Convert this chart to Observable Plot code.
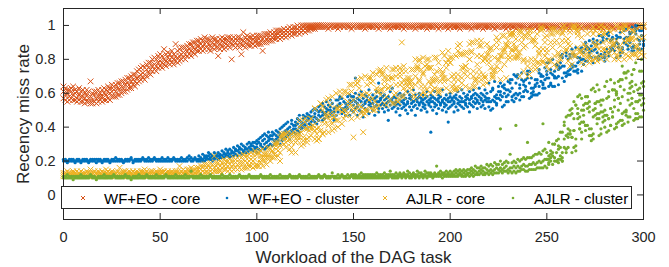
<!DOCTYPE html>
<html><head><meta charset="utf-8">
<script src="https://cdn.jsdelivr.net/npm/d3@7"></script>
<script src="https://cdn.jsdelivr.net/npm/@observablehq/plot@0.6"></script>
<style>
body{margin:0;background:#fff;font-family:"Liberation Sans",Arial,Helvetica,sans-serif}
#wrap{position:relative;width:669px;height:267px}
#legend{position:absolute;left:61px;top:186px;width:569px;height:21px;border:1px solid #262626;background:#fff}
.entry{position:absolute;top:0;height:21px}
.entry svg{position:absolute;left:0;top:7px}
.entry span{position:absolute;left:25px;top:3px;font-size:15px;line-height:17px;white-space:nowrap;color:#000}
</style></head><body>
<div id="wrap"><div id="legend"></div></div>
<script>
const workload = d3.range(0, 301);
const xTicks = [0, 50, 100, 150, 200, 250, 300];
const yTicks = [0, 0.2, 0.4, 0.6, 0.8, 1];
const yTickLabels = ["0", "0.2", "0.4", "0.6", "0.8", "1"];
const seriesNames = ["WF+EO - core", "WF+EO - cluster", "AJLR - core", "AJLR - cluster"];
const xLabel = "Workload of the DAG task";
const yLabel = "Recency miss rate";

// miss rates in percent, one row of observations per workload value 0..300
const wfeoCore = [
[61,57,64],[59,63,56],[60,55,62],[58,62,56],[61,57,63],[59,64,56],[60,56,62],[57,61,55],[59,63,56],[58,55,61],
[58,62,55],[57,60,54],[59,55,62],[57,61,55],[58,54,67],[56,60,54],[59,55,61],[57,61,54],[58,55,62],[60,56,58],
[58,62,55],[60,56,63],[59,62,56],[61,57,64],[60,56,63],[61,58,65],[62,58,64],[61,65,58],[63,59,66],[62,66,59],
[64,60,67],[63,67,61],[65,61,68],[66,62,69],[65,69,63],[67,63,70],[68,65,71],[67,71,64],[69,66,73],[70,67,74],
[71,68,75],[72,69,76],[71,75,68],[74,70,77],[75,72,78],[74,78,71],[76,73,80],[77,74,81],[76,80,73],[78,75,82],
[79,76,83],[78,82,75],[80,77,86],[79,83,76],[81,78,84],[80,77,83],[81,85,78],[80,83,77],[82,79,89],[81,85,78],
[82,79,86],[83,80,87],[84,81,87],[83,87,80],[85,82,88],[86,83,89],[85,89,82],[87,84,90],[86,90,83],[88,85,91],
[88,85,91],[89,86,92],[88,91,85],[89,86,93],[90,87,92],[89,92,86],[88,91,85],[90,87,93],[89,92,86],[90,87,92],
[90,87,82],[89,92,86],[91,88,93],[90,86,92],[89,92,87],[91,88,93],[90,93,87],[89,92,80],[91,88,93],[90,87,92],
[91,88,93],[90,93,87],[89,92,83],[91,88,96],[90,93,87],[92,89,94],[91,88,93],[90,93,88],[92,89,94],[91,88,93],
[91,89,94],[92,89,94],[91,94,89],[92,90,85],[93,90,95],[92,95,90],[93,91,95],[94,91,96],[93,95,91],[94,92,96],
[94,92,97],[95,93,97],[94,97,92],[95,93,97],[96,94,98],[95,97,93],[96,94,98],[97,95,99],[96,98,94],[97,95,99],
[97,95,99],[98,96,100],[97,99,95],[98,96,100],[99,97,100],[98,100,96],[99,97,100],[99,100,97],[100,98,99],[99,100,98],
[100,99,98],[99,100,100],[100,99,100],[100,100,99],[100,99,100],
[100,99],[100,99],[100,98],[100,99],[100],[99,100],[100,99],[100,98],[100,99],[100],
[100,99],[100],[100,99],[99,100],[100,98],[100,99],[100],[100,99],[100,99],[99,100],
[100,99],[100,98],[100],[100,99],[100,99],[99,100],[100],[100,99],[100,98],[100,99],
[100],[100,99],[99,100],[100,99],[100,98],[100],[100,99],[100,99],[99,100],[100],
[100,99],[100,98],[100,99],[100],[99,100],[100,99],[100,99],[100,98],[100],[100,99],
[99,100],[100,99],[100],[100,98],[100,99],[100,99],[99,100],[100],[100,99],[100,98],
[100,99],[100],[99,100],[100,99],[100,98],[100,99],[100],[100,99],[99,100],[100,99],
[100,98],[100],[100,99],[99,100],[100,99],[100,99],[100,98],[100],[100,99],[99,100],
[100,99],[100],[100,98],[100,99],[99,100],[100,99],[100],[100,99],[100,98],[99,100],
[100,99],[100],[100,99],[100,99],[100,98],[99,100],[100],[100,99],[100,99],[100,98],
[100],[99,100],[100,99],[100,99],[100],[100,98],[99,100],[100,99],[100],[100,99],
[100,98],[100,99],[99,100],[100],[100,99],[100,99],[100,98],[100],[99,100],[100,99],
[100,99],[100],[100,98],[100,99],[99,100],[100,99],[100],[100,98],[100,99],[99,100],
[100],[100,99],[100,99],[100,98],[100],[99,100],[100,99],[100,99],[100],[100,98],
[100,99],[99,100],[100],[100,99],[100,98],[100,99],[99,100],[100],[100,99],[100,99],
[100,98],[100],[99,100],[100,99],[100,99],[100],[100,98],[99,100],[100,99],[100],
[100,99],[100,99],[100,98],[99,100],[100],[100,99]
];

const wfeoCluster = [
[20,21],[21,20],[20,19],[20,21],[21,20],[20,21],[19,20],[20,21],[21,20],[20,19],
[20,21],[21,20],[20,21],[20,19],[21,20],[20,21],[20,21],[21,19],[20,21],[21,20],
[20,19],[20,21],[21,20],[20,21],[19,20],[21,20],[20,21],[20,22],[21,20],[20,21],
[21,20],[20,19],[20,21],[21,20],[20,21],[21,22],[20,19],[21,20],[20,21],[21,20],
[20,21],[21,22],[20,21],[21,20],[20,22],[21,20],[20,21],[21,22],[20,21],[21,20],
[21,20],[20,22],[21,20],[20,21],[22,20],[21,20],[20,21],[21,22],[20,21],[21,20],
[21,20],[20,22],[21,20],[20,21],[22,20],[21,23],[20,22],[21,20],[21,22],[20,21],
[21,23,20],[22,20,21],[21,24,20],[22,20,23],[21,23,22],[23,21,25],[22,24,21],[23,20,22],[22,25,21],[24,22,23],
[23,21,25],[24,22,23],[23,26,22],[25,22,24],[24,27,23],[25,23,26],[24,27,22],[26,23,25],[25,28,23],[26,24,27],
[26,23,29],[25,28,27],[27,24,30],[26,29,25],[28,25,27],[27,30,25],[28,26,31],[27,30,29],[29,26,31],[28,31,27],
[28,32,25,30],[31,27,33],[29,26,34,30],[32,28,35],[30,33,27,36],[31,35,28],[34,29,32,37],[30,35,33],[33,29,37,35],[36,32,30],
[35,31,38,33],[32,37,34],[36,30,39,35],[34,40,32],[37,33,36,41],[38,34,42],[35,39,37,43],[40,36,33],[38,42,36,44],[41,37,39],
[39,43,36,41],[42,38,45],[40,44,37,47],[43,39,41],[45,40,47,42],[41,46,43],[44,39,48,46],[47,42,45],[43,49,46,41],[46,44,50],
[48,43,46,51],[45,50,42],[47,52,44,49],[50,46,53],[44,49,47,54],[48,52,45],[51,47,55,49],[46,53,50],[52,48,56,50],[49,54,47],
[45,49,44,51],[56,47,52],[52,49,53,56],[57,54,58],[50,48,51,57],[51,55,49],[54,52,50,47],[58,51,53],[56,59,54,47],[50,58,55],
[53,49,58,56],[51,55,60,69],[54,47,57,52],[56,50,59],[52,55,61,49],[57,53,46],[55,59,51,54],[50,56,58],[53,48,55,62],[57,52,54],
[54,59,50,56],[52,57,47],[58,53,55,61],[55,66,51,49],[53,57,60,56],[51,54,58],[56,49,53,59],[54,57,52],[58,55,44,50],[53,56,61],
[55,51,57,63],[52,58,54],[57,49,55,53],[54,59,51],[56,53,60,47],[51,55,58],[59,54,52,56],[53,57,50],[55,61,54,48],[57,52,59],
[54,56,50,58],[52,55,62],[56,59,53,47],[55,51,57],[53,58,54,60],[57,50,55],[54,52,59,56],[51,57,53],[58,55,49,61],[56,53,54],
[52,57,37,59,55],[55,50,58],[57,54,52,61],[53,56,48],[55,59,51,57],[58,54,53],[56,50,55,62],[54,57,52],[53,59,56,49],[57,43,55,51],
[55,58,52,60],[57,53,56],[54,49,58,55],[59,52,57],[56,54,61,50],[53,58,55],[57,55,52,62],[55,60,51],[58,54,56,53],[52,57,59],
[56,61,54,49],[58,53,57],[55,59,52,62],[57,54,60],[59,56,51,55],[54,58,63],[57,52,60,56],[59,55,53],[56,62,58,51],[60,55,57],
[52,55,57,66],[55,61,50],[63,56,62,51],[55,58,67],[53,59,54,57],[64,57,61],[56,59,61,66],[64,52,58],[63,65,53,60],[58,55,62],
[62,67,59,55],[66,61,68],[68,56,63,58],[55,71,59],[57,70,66,60],[69,59,71],[60,65,63,56],[72,58,68],[58,65,61,67],[64,62,68],
[69,71,73,61],[66,73,57],[63,69,58,60],[61,59,63],[64,59,68,65],[59,68,66],[74,72,64,60],[67,71,70],[70,65,63,66],[75,68,63],
[69,73,78,71],[64,78,69],[65,72,66,74],[64,80,71],[69,70,64,73],[77,69,76],[65,70,76,74],[78,75,82],[76,83,69,81],[76,72,67],
[84,72,70,82],[80,71,73],[81,74,83,71],[86,75,77],[82,73,76,83],[87,76,73],[72,81,74,78],[86,81,79],[87,73,85,80],[80,84,77],
[79,86,90,88],[86,79,87],[82,91,84,86],[88,81,85],[78,90,92,85],[89,86,81],[89,81,84,91],[94,80,82],[82,90,94,83],[93,81,91],
[84,79,81,83],[95,86,92],[82,84,96,94],[85,87,91],[93,86,88,92],[85,89,88],[81,92,90,94],[93,89,87],[82,96,93,84],[86,84,87],
[98,90,97,92],[93,89,98],[93,88,86,91],[96,90,95],[87,99,85,96],[85,88,87],[97,100,98,95],[86,100,92],[91,97,86,89],[97,86,94],
[91,100,89,88]
];

const ajlrCore = [
[12,13,11],[13,11,12],[12,14,11],[11,13,12],[12,13,11],[13,12,14],[12,11,13],[11,12,14],[13,12,11],[12,14,11],
[12,13,11],[13,11,12],[12,14,11],[12,13,11],[13,12,15],[11,13,12],[12,14,11],[13,12,11],[12,13,14],[11,13,12],
[12,14,11],[13,12,11],[12,13,15],[11,14,12],[13,12,11],[12,14,13],[11,12,13],[13,11,12],[12,14,11],[13,12,16],
[12,13,11],[13,11,14],[12,14,12],[11,13,12],[13,12,14],[12,11,13],[12,14,11],[13,12,11],[12,13,14],[11,13,12],
[12,14,11],[13,12,14],[12,13,15],[11,14,12],[13,12,11],[12,14,13],[11,12,14],[13,12,11],[12,14,13],[13,12,11],
[12,13,15],[13,11,14],[12,14,12],[13,12,11],[12,13,14],[13,12,11],[12,14,13],[13,11,12],[12,14,13],[13,12,14],
[13,12,17],[12,14,11],[13,15,12],[14,12,13],[13,15,12],[14,12,15],[13,16,12],[14,12,15],[13,15,12],[14,16,12],
[14,12,16],[15,13,17],[14,17,12],[15,13,18],[16,13,18],[15,17,13],[16,14,19],[15,18,13],[16,14,23],[17,14,19],
[16,14,19],[17,14,20],[16,19,13],[17,15,21],[18,15,20],[17,20,14],[18,15,21],[17,20,14],[18,15,22],[19,16,21],
[18,15,22],[19,16,23],[19,22,15],[19,16,24],[20,16,23],[19,23,16],[20,17,24],[21,17,25],[20,24,16],[21,17,26],
[24,17,25,18],[25,17,25],[19,26,21,23],[27,17,21],[24,20,22,24],[22,24,18],[21,28,27,23],[27,20,23],[26,22,26,26],[22,24,30],
[30,31,27,29],[23,26,31],[20,34,25,29],[35,34,36],[30,36,30,33],[28,36,31],[32,37,32,34],[33,27,35],[36,28,31,25],[37,35,35],
[31,25,31,35],[32,36,34],[40,36,44,34],[37,41,29],[34,44,32,30],[43,45,39],[33,39,31,39],[40,38,34],[45,39,35,45],[39,41,41],
[38,51,33,51],[39,36,32],[33,40,33,44],[54,54,38],[36,52,36,50],[44,37,42],[47,56,48,46],[41,57,37],[46,44,48,53],[42,58,38],
[39,46,46,48],[44,60,51],[44,51,40,51],[61,52,52],[49,42,58,49],[61,45,50],[47,50,47,61],[55,48,60],[65,54,52,54],[65,45,61],
[56,51,49,51,34],[52,65,50],[68,66,66,46],[63,58,53],[49,69,59,52],[59,49,47,37],[50,70,48,50],[50,60,65],[56,69,56,59],[51,69,66],
[72,57,50,67],[50,55,52],[63,61,51,71],[73,53,61],[74,73,59,62],[72,71,62],[54,67,69,64],[53,75,58],[63,63,70,68],[56,64,69],
[54,69,69,74],[54,74,59],[60,70,65,75],[55,55,57],[70,75,65,72],[73,66,58,90],[58,76,68,63],[73,66,61],[64,67,69,67],[69,67,66],
[62,67,64,74],[59,57,74],[70,65,80,58],[75,76,74],[68,67,80,79],[64,59,74],[81,71,72,61],[76,59,64],[77,75,62,80],[67,80,75],
[60,75,65,75],[62,67,68],[63,68,81,71],[73,81,68],[61,62,60,78],[74,67,62],[72,71,84,69],[69,82,67],[78,75,78,63],[68,85,80],
[78,61,78,81],[70,81,64],[65,71,68,62],[62,82,63],[88,71,68,85],[83,63,89],[66,69,83,75],[75,72,83],[76,84,64,76],[84,70,73],
[63,80,89,80],[90,84,85],[70,64,90,73],[67,64,68],[77,68,82,91],[71,88,74],[82,88,68,91],[65,71,79],[80,69,81,70],[66,89,83],
[80,86,78,83],[75,86,87],[73,70,71,69],[73,81,74],[76,90,93,87],[91,80,79],[74,82,68,82],[85,94,82],[77,85,94,86],[89,88,69],
[88,91,82,80],[81,95,94],[86,95,96,85],[89,95,81],[86,92,87,81],[82,84,81],[96,70,84,97],[93,90,96],[79,73,87,80],[88,94,93],
[96,76,79,70],[71,97,94],[91,97,80,74],[77,91,92],[80,88,74,91],[95,78,75],[86,84,78,83],[98,97,99],[78,79,98,86],[93,90,82],
[86,76,84,94],[79,80,74],[95,79,90,98],[95,98,87],[77,98,82,90],[91,96,75],[83,84,78,96],[80,88,81],[96,95,91,99],[84,100,97],
[86,98,91,85],[92,89,79],[76,88,96,81],[77,99,84],[99,82,84,100],[97,82,99],[87,97,96,94],[99,84,85],[83,78,85,93],[82,89,77],
[98,87,88,85],[81,82,95],[85,78,80,82],[86,97,81],[99,95,79,90],[97,88,81],[90,81,88,79],[86,99,95],[80,82,100,98],[86,95,90],
[95,99,86,83],[80,91,98],[86,83,97,84],[87,96,91],[89,91,88,98],[80,89,84],[100,91,87,82],[82,98,80],[85,88,86,99],[96,98,84],
[91,80,100,98],[83,100,90],[91,92,98,82],[92,88,81],[83,97,92,93],[97,83,96],[88,92,83,87],[88,85,81],[93,100,99,84],[83,85,92],
[82,100,99,93]
];

const ajlrCluster = [
[10,11],[11,10],[10,12],[11,10],[10,11],[11,9],[10,11],[11,10],[10,11],[12,10],
[11,10],[10,11],[11,10],[10,11],[11,12],[10,11],[11,10],[10,9],[11,10],[10,11],
[11,10],[10,12],[11,10],[10,11],[11,10],[10,11],[12,11],[10,11],[11,10],[10,11],
[11,10],[10,11],[11,12],[10,11],[11,10],[10,9],[11,10],[10,11],[11,10],[10,12],
[11,10],[10,11],[11,10],[12,11],[10,11],[11,10],[10,11],[11,10],[10,12],[11,10],
[10,11],[11,10],[10,11],[11,12],[10,11],[11,10],[10,11],[11,10],[12,10],[10,11],
[11,10],[10,11],[11,10],[10,12],[11,10],[10,11],[11,14],[10,11],[11,10],[10,11],
[11,10],[10,12],[11,10],[10,11],[11,10],[10,11],[11,12],[10,11],[11,10],[10,11],
[11,10],[10,11],[12,10],[11,10],[10,11],[11,10],[10,12],[11,10],[10,11],[11,10],
[10,11],[11,12],[10,11],[11,10],[10,11],[11,10],[12,11],[10,11],[11,10],[10,11],
[11,10],[10,11],[11,12],[10,11],[11,10],[10,11],[11,10],[12,10],[10,11],[11,10],
[10,11],[11,10],[10,12],[11,10],[10,11],[11,10],[10,11],[11,12],[10,11],[11,10],
[10,11],[11,10],[12,11],[10,11],[11,10],[10,11],[11,10],[10,12],[11,10],[10,11],
[11,10],[10,11],[11,12],[10,11],[11,10],[12,11],[10,11],[11,10],[10,11],[11,13],
[10,11],[11,10],[10,12],[11,10],[12,11],[10,11],[11,10],[10,12],[11,10],[12,11],
[11,10,12],[10,11,12],[11,10,11],[10,12,11],[11,10,13],[10,11,12],[11,12,10],[12,10,11],[11,10,12],[10,12,11],
[11,10,12],[12,11,10],[11,13,10],[10,11,12],[11,12,10],[12,10,11],[11,10,13],[10,12,11],[11,10,12],[12,11,14],
[11,10,12],[12,11,10],[11,13,10],[10,12,11],[12,11,13],[11,10,12],[12,13,11],[11,10,12],[12,11,14],[11,13,10],
[12,11,10],[11,13,12],[12,10,11],[11,12,14],[13,11,10],[12,11,13],[11,12,10],[12,14,11],[11,10,13],[12,11,13],
[11,13,12],[12,10,11],[13,11,12],[12,17,11],[11,13,12],[12,11,14],[13,12,10],[12,11,13],[11,14,12],[12,13,11],
[12,11,14],[13,11,12],[12,14,11],[13,11,15],[12,14,11],[13,12,15],[12,11,14],[13,15,11],[14,12,11],[13,15,12],
[13,11,15],[14,12,16],[13,15,11],[14,12,17],[13,16,12],[14,12,16],[15,13,17],[14,12,16],[13,16,12],[15,13,18],
[14,12,17],[15,13,18],[14,17,12],[15,13,19],[16,13,18],[15,18,13],[16,14,20,39],[15,18,13],[16,14,19],[17,14,20],
[15,13,19],[16,14,24],[16,19,13],[17,14,20],[16,13,19,41],[17,14,21],[16,20,14],[17,15,21],[18,15,22],[17,21,14],
[17,14,22,31],[18,15,22],[18,22,15],[19,15,23],[18,15,24],[19,16,24],[20,16,25],[19,24,16],[20,16,26,42],[21,17,27],
[21,16,21,25],[19,23,21,18,31],[26,20,24,22],[25,30,23,18],[30,20,22,30],[25,32,20,20],[21,33,27,29,19],[23,37,28,21],[20,25,37,20,22],[43,28,41,33],
[27,25,35,46],[36,39,28,47,34],[36,47,50,38,36],[51,34,25,34,48],[28,55,45,38,38],[33,53,53,29,26],[58,51,45,48,48],[46,59,39,39,42],[43,50,33,37,57],[43,53,47,50,43],
[58,38,41,41,54],[58,51,54,58,41],[35,52,49,39,55],[35,39,32,35,62],[33,63,36,46,50],[54,47,61,51,54],[55,65,42,45,48],[55,35,45,48,62],[56,39,36,49,53],[49,46,43,56,56],
[50,64,44,40,47],[47,67,47,57,37],[61,45,58,38,45],[51,68,41,51,41],[46,62,49,62,46],[52,56,66,62,39],[40,60,61,42,59],[50,43,57,57,67],[68,44,64,54,68],[68,44,58,48,41,76],
[72,49,42,72,62],[49,69,50,72,47],[60,56,43,73,46],[66,46,60,53,63],[57,54,64,67,71],[74,51,61,74,44],[55,65,45,45,48,78],[48,55,55,45,62],[56,46,63,59,73],[73,53,46,59,66,80],
[67,64,54,50,57]
];

const seriesValues = [wfeoCore, wfeoCluster, ajlrCore, ajlrCluster];
const seriesColors = ["#D95319", "#0072BD", "#EDB120", "#77AC30"];
const seriesMarkers = ["times", "dot", "times", "dot"];

function points(rows) {
  const out = [];
  rows.forEach((row, i) => row.forEach(v => out.push({x: workload[i], y: v / 100})));
  return out;
}

const ink = "#262626";
const dotMarks = seriesValues.map((rows, k) =>
  seriesMarkers[k] === "times"
    ? Plot.dot(points(rows), {x: "x", y: "y", symbol: "times", r: 2.7, stroke: seriesColors[k], strokeWidth: 1})
    : Plot.dot(points(rows), {x: "x", y: "y", r: 1.6, fill: seriesColors[k], stroke: "none"})
);

const chart = Plot.plot({
  width: 669, height: 267,
  marginLeft: 63, marginRight: 26, marginTop: 8, marginBottom: 48,
  style: {background: "white", color: ink, fontFamily: "'Liberation Sans', Arial, Helvetica, sans-serif", overflow: "visible"},
  x: {domain: [0, 300], label: null},
  y: {domain: [-0.145, 1.1], label: null},
  marks: [
    ...dotMarks,
    Plot.tickX(xTicks, {x: d => d, insetTop: 205, stroke: ink}),
    Plot.tickX(xTicks, {x: d => d, insetBottom: 205, stroke: ink}),
    Plot.tickY(yTicks, {y: d => d, insetRight: 574, stroke: ink}),
    Plot.tickY(yTicks, {y: d => d, insetLeft: 574, stroke: ink}),
    Plot.frame({stroke: ink}),
    Plot.axisX(xTicks, {tickSize: 0, tickPadding: 12, fontSize: 14.5, label: null}),
    Plot.axisY(yTicks, {tickSize: 0, tickPadding: 8, fontSize: 14.5, label: null,
      tickFormat: d => yTickLabels[yTicks.indexOf(d)]}),
    Plot.text([xLabel], {text: d => d, frameAnchor: "bottom", dy: 43.5, lineAnchor: "bottom", fontSize: 17}),
    Plot.text([yLabel], {text: d => d, frameAnchor: "left", dx: -35, rotate: -90, lineAnchor: "bottom", textAnchor: "middle", fontSize: 17})
  ]
});
const wrap = document.getElementById("wrap");
wrap.insertBefore(chart, wrap.firstChild);

// legend inside the axes (MATLAB style)
const legend = document.getElementById("legend");
const entryLeft = [17, 161, 319, 447];
seriesNames.forEach((name, k) => {
  const e = document.createElement("div");
  e.className = "entry";
  e.style.left = entryLeft[k] + "px";
  const c = seriesColors[k];
  const icon = seriesMarkers[k] === "times"
    ? `<svg width="8" height="8"><path d="M2,2L6,6M2,6L6,2" stroke="${c}" stroke-width="1"/></svg>`
    : `<svg width="8" height="8"><circle cx="4" cy="4" r="1.3" fill="${c}"/></svg>`;
  e.innerHTML = icon + `<span>${name}</span>`;
  legend.appendChild(e);
});
</script>
</body></html>
